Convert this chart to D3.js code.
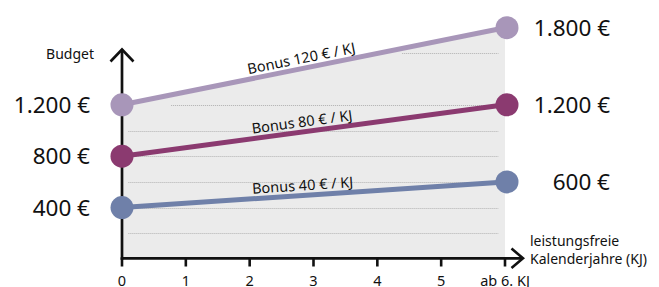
<!DOCTYPE html>
<html><head><meta charset="utf-8">
<script src="https://cdn.jsdelivr.net/npm/d3@7"></script>
<style>html,body{margin:0;padding:0;background:#fff;}svg{display:block;font-family:"Noto Sans",sans-serif;}</style>
</head><body>
<script>
// ---- data ----
const xTicks = [0, 1, 2, 3, 4, 5, 6];
const xTickLabels = ["0", "1", "2", "3", "4", "5", "ab 6. KJ"];
const seriesNames = ["Bonus 120 € / KJ", "Bonus 80 € / KJ", "Bonus 40 € / KJ"];
const startValues = [1200, 800, 400];
const endValues = [1800, 1200, 600];
const startLabels = ["1.200 €", "800 €", "400 €"];
const endLabels = ["1.800 €", "1.200 €", "600 €"];
const seriesColors = ["#a896b9", "#8b3a70", "#6f80a9"];
const gridValues = [200, 400, 600, 800, 1000, 1200, 1600];
const gridStarts = [0.1, 0.1, 0.1, 0.1, 0.1, 0.77, 4.39];
const gridEnd = 5.9;
const yTitle = "Budget";
const xTitle = ["leistungsfreie", "Kalenderjahre (KJ)"];

// ---- layout ----
const W = 659, H = 287;
const x = d3.scaleLinear().domain([0, 6]).range([122, 505]);
const y = d3.scaleLinear().domain([0, 1800]).range([259, 27.7]);

const svg = d3.select("body").append("svg").attr("width", W).attr("height", H);

// gray background area under the top line
svg.append("path")
  .attr("d", d3.line().x(d => x(d[0])).y(d => y(d[1]))([[0, startValues[0]], [6, endValues[0]], [6, 0], [0, 0]]) + "Z")
  .attr("fill", "#ebebeb");

// dotted gridlines
svg.append("g").selectAll("line").data(gridValues).join("line")
  .attr("x1", (d, i) => x(gridStarts[i])).attr("x2", x(gridEnd))
  .attr("y1", d => Math.round(y(d)) + 0.5).attr("y2", d => Math.round(y(d)) + 0.5)
  .attr("stroke", "#b0b0b0").attr("stroke-width", 1).attr("stroke-dasharray", "1,1");

// x axis
const axisColor = "#111";
const x0 = x(0), yb = 258.3;
svg.append("line").attr("x1", x0 - 1.3).attr("x2", 523).attr("y1", yb).attr("y2", yb)
  .attr("stroke", axisColor).attr("stroke-width", 2.7);
svg.append("path").attr("d", `M511.5,248.5 L523,258.3 L511.5,268`)
  .attr("fill", "none").attr("stroke", axisColor).attr("stroke-width", 2.6);
svg.append("g").selectAll("line").data(xTicks).join("line")
  .attr("x1", d => x(d)).attr("x2", d => x(d)).attr("y1", yb).attr("y2", 266.5)
  .attr("stroke", axisColor).attr("stroke-width", 2.6);
svg.append("g").selectAll("text").data(xTicks).join("text")
  .attr("x", d => x(d)).attr("y", 286).attr("text-anchor", "middle")
  .attr("font-size", 14.5).attr("fill", "#111")
  .text((d, i) => xTickLabels[i]);

// y axis
svg.append("line").attr("x1", x0).attr("x2", x0).attr("y1", yb + 1.3).attr("y2", 49.5)
  .attr("stroke", axisColor).attr("stroke-width", 2.7);
svg.append("path").attr("d", `M110.5,61.5 L${x0},49.5 L133.5,61.5`)
  .attr("fill", "none").attr("stroke", axisColor).attr("stroke-width", 2.6);

// axis titles
svg.append("text").attr("x", 94).attr("y", 54).attr("dy", "0.35em").attr("text-anchor", "end")
  .attr("font-size", 14).attr("fill", "#111").text(yTitle);
svg.append("text").attr("x", 530).attr("y", 241.5).attr("dy", "0.35em")
  .attr("font-size", 14).attr("fill", "#111").text(xTitle[0]);
svg.append("text").attr("x", 530).attr("y", 259).attr("dy", "0.35em")
  .attr("font-size", 14).attr("fill", "#111").text(xTitle[1]);

// series lines, circles, labels
seriesNames.forEach((name, i) => {
  const p0 = [x(0), y(startValues[i])], p1 = [x(6), y(endValues[i])];
  svg.append("line").attr("x1", p0[0]).attr("y1", p0[1]).attr("x2", p1[0]).attr("y2", p1[1])
    .attr("stroke", seriesColors[i]).attr("stroke-width", 5);
  svg.append("circle").attr("cx", p0[0]).attr("cy", p0[1]).attr("r", 11.5).attr("fill", seriesColors[i]);
  svg.append("circle").attr("cx", p1[0] + 2).attr("cy", p1[1]).attr("r", 11.5).attr("fill", seriesColors[i]);

  const angle = Math.atan2(p1[1] - p0[1], p1[0] - p0[0]) * 180 / Math.PI;
  const lx = x(2.84);
  const ly = p0[1] + (p1[1] - p0[1]) * (lx - p0[0]) / (p1[0] - p0[0]);
  svg.append("text")
    .attr("transform", `translate(${lx},${ly}) rotate(${angle})`)
    .attr("y", -5).attr("text-anchor", "middle")
    .attr("font-size", 14.5).attr("fill", "#111").text(name);

  svg.append("text").attr("x", 90).attr("y", p0[1]).attr("dy", "0.36em").attr("text-anchor", "end")
    .attr("font-size", 22.5).attr("fill", "#111").text(startLabels[i]);
  svg.append("text").attr("x", 610).attr("y", p1[1]).attr("dy", "0.36em").attr("text-anchor", "end")
    .attr("font-size", 22.5).attr("fill", "#111").text(endLabels[i]);
});
</script>
</body></html>
